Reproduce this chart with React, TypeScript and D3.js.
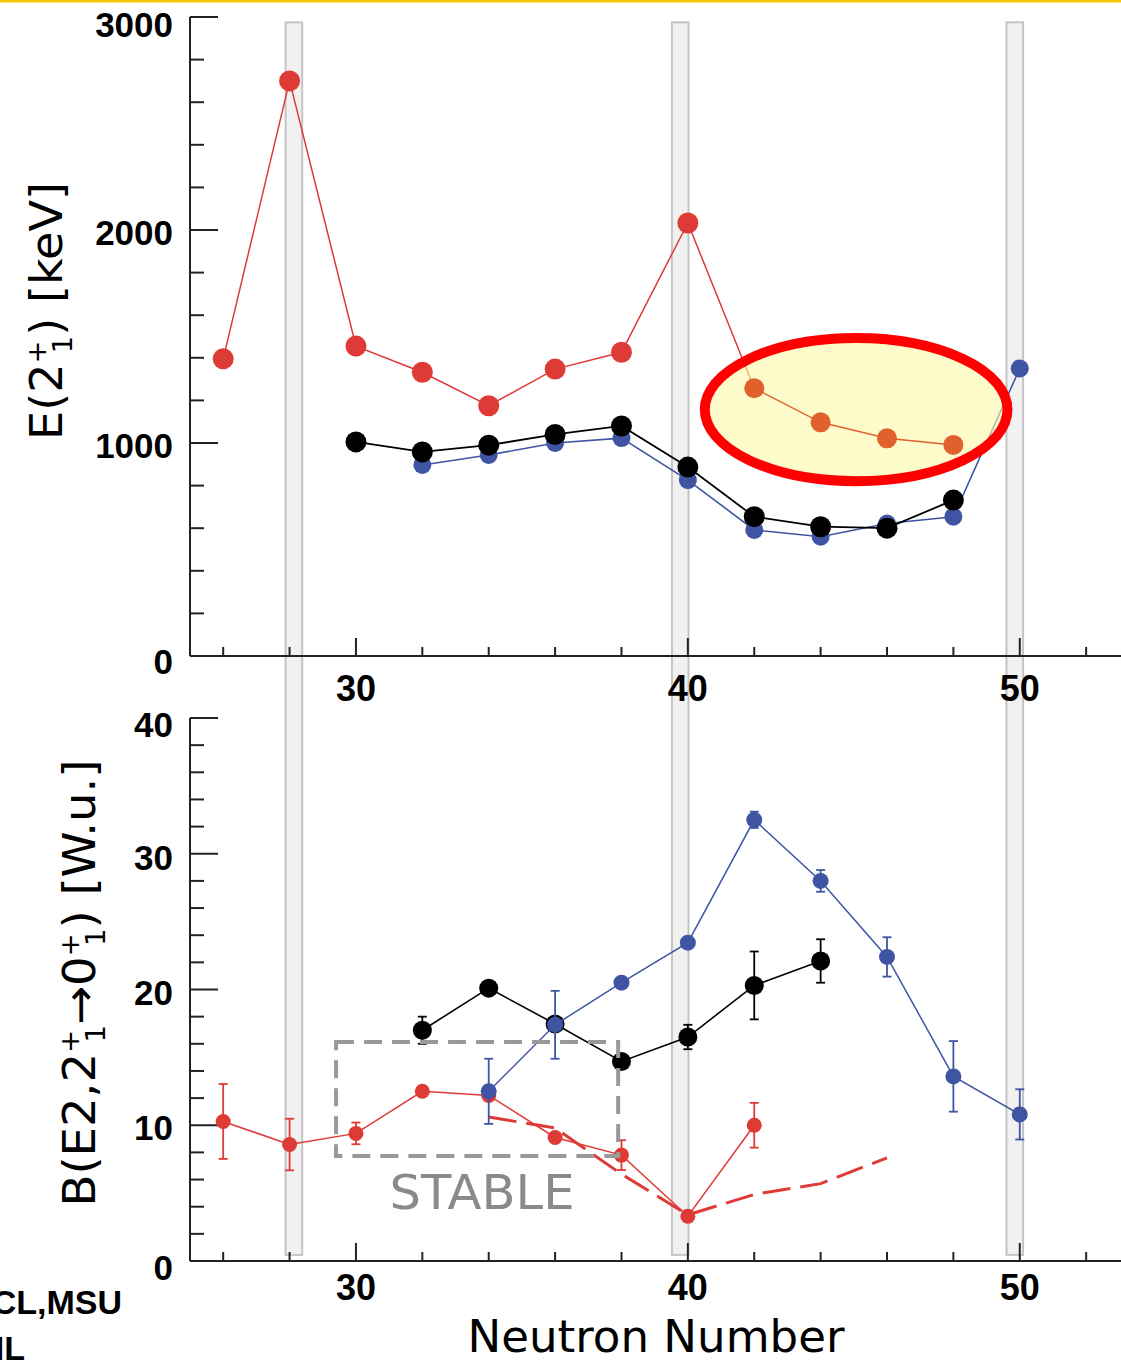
import React from 'react';
import * as d3 from 'd3';

// ---------- data ----------
const xMajorTicks = [30, 40, 50];
const xTickLabels = ['30', '40', '50'];
const xMinorTicks = [26, 28, 32, 34, 36, 38, 42, 44, 46, 48, 52];

const topYMajorTicks = [0, 1000, 2000, 3000];
const topYTickLabels = ['0', '1000', '2000', '3000'];
const botYMajorTicks = [0, 10, 20, 30, 40];
const botYTickLabels = ['0', '10', '20', '30', '40'];

// shell closure bands (N = 28, 40, 50)
const bandCenters = [28.13, 39.77, 49.85];

// Top panel: E(2+1) [keV]
const topRedN = [26, 28, 30, 32, 34, 36, 38, 40];
const topRedE = [1395, 2700, 1455, 1332, 1175, 1347, 1426, 2033];
const topOrangeN = [42, 44, 46, 48];
const topOrangeE = [1257, 1097, 1022, 991];
const topBlackN = [30, 32, 34, 36, 38, 40, 42, 44, 46, 48];
const topBlackE = [1005, 958, 990, 1040, 1080, 887, 654, 607, 600, 732];
const topBlueN = [32, 34, 36, 38, 40, 42, 44, 46, 48, 50];
const topBlueE = [897, 944, 1000, 1023, 826, 592, 560, 622, 654, 1350];

// highlight ellipse (data units)
const ellipseCenter = [45.07, 1157];
const ellipseRadii = [4.56, 336];

// Bottom panel: B(E2) [W.u.]
const botRedN = [26, 28, 30, 32, 34, 36, 38, 40, 42];
const botRedB = [10.28, 8.58, 9.4, 12.5, 12.2, 9.1, 7.8, 3.3, 10.0];
const botRedErr = [2.76, 1.9, 0.8, 0, 0, 0, 1.1, 0.4, 1.65];
const botBlueN = [34, 36, 38, 40, 42, 44, 46, 48, 50];
const botBlueB = [12.5, 17.4, 20.5, 23.45, 32.5, 28.0, 22.4, 13.6, 10.8];
const botBlueErr = [2.4, 2.5, 0, 0, 0.6, 0.8, 1.45, 2.6, 1.85];
const botBlackN = [32, 34, 36, 38, 40, 42, 44];
const botBlackB = [17.0, 20.1, 17.46, 14.7, 16.5, 20.3, 22.1];
const botBlackErr = [1.0, 0, 0, 0, 0.9, 2.5, 1.6];
const botDashN = [34, 36, 38, 40, 42, 44, 46];
const botDashB = [10.6, 9.8, 6.4, 3.4, 4.9, 5.7, 7.6];

// "STABLE" box (data units)
const stableBoxN = [29.4, 37.9];
const stableBoxB = [7.73, 16.13];

// ---------- styles ----------
const RED = '#de3a36';
const ORANGE = '#e0612c';
const BLUE = '#3f55a3';
const BLACK = '#000000';
const AXIS = '#222';
const TICKFONT = '"Liberation Sans", Arial, sans-serif';
const HANDFONT = '"Comic Sans MS", "DejaVu Sans", sans-serif';

const W = 1121;
const H = 1362;

const x = d3.scaleLinear().domain([25, 53.05]).range([190, 1121]);
const yT = d3.scaleLinear().domain([0, 3000]).range([656, 17]);
const yB = d3.scaleLinear().domain([0, 40]).range([1261, 718]);

type Scale = d3.ScaleLinear<number, number>;

function zip(a: number[], b: number[]): [number, number][] {
  return a.map((v, i) => [v, b[i]]);
}

function Axes({ y, majors, labels, minors, labelY, labelNudge }: {
  y: Scale; majors: number[]; labels: string[]; minors: number[]; labelY: number; labelNudge: number[];
}) {
  const [y0, y1] = y.range();
  const xl = x.range()[0];
  return (
    <g>
      <line x1={xl} x2={W} y1={y0} y2={y0} stroke={AXIS} strokeWidth={2} />
      <line x1={xl} x2={xl} y1={y0} y2={y1} stroke={AXIS} strokeWidth={2} />
      {majors.map((v) => (
        <line key={'ym' + v} x1={xl} x2={xl + 28} y1={y(v)} y2={y(v)} stroke={AXIS} strokeWidth={2} />
      ))}
      {minors.map((v) => (
        <line key={'yn' + v} x1={xl} x2={xl + 14} y1={y(v)} y2={y(v)} stroke={AXIS} strokeWidth={2} />
      ))}
      {majors.map((v, i) => (
        <text key={'yl' + v} x={173} y={y(v) + labelNudge[i]} textAnchor="end" dominantBaseline="central"
          fontFamily={TICKFONT} fontWeight="bold" fontSize={35}>{labels[i]}</text>
      ))}
      {xMajorTicks.map((v) => (
        <line key={'xm' + v} x1={x(v)} x2={x(v)} y1={y0} y2={y0 - 18} stroke={AXIS} strokeWidth={2} />
      ))}
      {xMinorTicks.map((v) => (
        <line key={'xn' + v} x1={x(v)} x2={x(v)} y1={y0} y2={y0 - 9} stroke={AXIS} strokeWidth={2} />
      ))}
      {xMajorTicks.map((v, i) => (
        <text key={'xl' + v} x={x(v)} y={labelY} textAnchor="middle" dominantBaseline="central"
          fontFamily={TICKFONT} fontWeight="bold" fontSize={36}>{xTickLabels[i]}</text>
      ))}
    </g>
  );
}

function Series({ pts, y, color, r, width, errs, cap }: {
  pts: [number, number][]; y: Scale; color: string; r: number; width: number; errs?: number[]; cap?: number;
}) {
  const line = d3.line<[number, number]>().x((d) => x(d[0])).y((d) => y(d[1]));
  return (
    <g>
      <path d={line(pts) || ''} fill="none" stroke={color} strokeWidth={width} />
      {errs && pts.map((p, i) => errs[i] > 0 ? (
        <g key={'e' + i} stroke={color} strokeWidth={1.8}>
          <line x1={x(p[0])} x2={x(p[0])} y1={y(p[1] - errs[i])} y2={y(p[1] + errs[i])} />
          <line x1={x(p[0]) - (cap || 4)} x2={x(p[0]) + (cap || 4)} y1={y(p[1] - errs[i])} y2={y(p[1] - errs[i])} />
          <line x1={x(p[0]) - (cap || 4)} x2={x(p[0]) + (cap || 4)} y1={y(p[1] + errs[i])} y2={y(p[1] + errs[i])} />
        </g>
      ) : null)}
      {pts.map((p, i) => (
        <circle key={'c' + i} cx={x(p[0])} cy={y(p[1])} r={r} fill={color} />
      ))}
    </g>
  );
}

export default function App() {
  const bandW = x(0.5) - x(0);
  const bandTop = yT(2975);
  const bandBottom = yB(0.45);
  const dashLine = d3.line<[number, number]>().x((d) => x(d[0])).y((d) => yB(d[1]));
  const redToOrange = d3.line<[number, number]>().x((d) => x(d[0])).y((d) => yT(d[1]));

  const ex = x(ellipseCenter[0]);
  const ey = yT(ellipseCenter[1]);
  const erx = x(ellipseCenter[0] + ellipseRadii[0]) - ex;
  const ery = ey - yT(ellipseCenter[1] + ellipseRadii[1]);

  const bx0 = x(stableBoxN[0]);
  const bx1 = x(stableBoxN[1]);
  const by0 = yB(stableBoxB[1]);
  const by1 = yB(stableBoxB[0]);

  return (
    <svg width={W} height={H} style={{ position: 'absolute', left: 0, top: 0, background: '#fff' }}>
      <rect x={0} y={0} width={W} height={H} fill="#fff" />
      <rect x={0} y={0} width={W} height={2.5} fill="#f7c600" />

      {/* shell closure bands */}
      {bandCenters.map((c) => (
        <rect key={c} x={x(c) - bandW / 2} y={bandTop} width={bandW} height={bandBottom - bandTop}
          fill="#f1f1f1" stroke="#c4c4c4" strokeWidth={2} />
      ))}

      {/* ---------- top panel ---------- */}
      <Axes y={yT} majors={topYMajorTicks} labels={topYTickLabels}
        minors={d3.range(200, 3000, 200).filter((v) => v % 1000 !== 0)} labelY={688} labelNudge={[5, 2, 2, 7]} />

      <Series pts={zip(topBlueN, topBlueE)} y={yT} color={BLUE} r={9} width={1.6} />
      <Series pts={zip(topBlackN, topBlackE)} y={yT} color={BLACK} r={10.5} width={1.8} />
      <path d={redToOrange([[topRedN[topRedN.length - 1], topRedE[topRedE.length - 1]], [topOrangeN[0], topOrangeE[0]]]) || ''}
        fill="none" stroke={RED} strokeWidth={1.5} />
      <Series pts={zip(topRedN, topRedE)} y={yT} color={RED} r={10.5} width={1.5} />

      <ellipse cx={ex} cy={ey} rx={erx} ry={ery} fill="#fdf9a8" fillOpacity={0.6} stroke="#ff0000" strokeWidth={10} />
      <Series pts={zip(topOrangeN, topOrangeE)} y={yT} color={ORANGE} r={10} width={1.5} />

      <text transform={`translate(62, 311) rotate(-90)`} textAnchor="middle" fontFamily={HANDFONT} fontSize={44}
        textLength={258} lengthAdjust="spacingAndGlyphs">
        E(2<tspan fontSize={26} dy={-16}>+</tspan><tspan fontSize={26} dx={-12} dy={26}>1</tspan><tspan dy={-10}>) [keV]</tspan>
      </text>

      {/* ---------- bottom panel ---------- */}
      <Axes y={yB} majors={botYMajorTicks} labels={botYTickLabels}
        minors={d3.range(2, 40, 2).filter((v) => v % 10 !== 0)} labelY={1287} labelNudge={[6, 2, 3, 4, 6]} />

      <path d={dashLine(zip(botDashN, botDashB)) || ''} fill="none" stroke={RED} strokeWidth={3}
        strokeDasharray="28 10" />
      <Series pts={zip(botRedN, botRedB)} y={yB} color={RED} r={7.5} width={1.5} errs={botRedErr} cap={4.5} />
      <Series pts={zip(botBlackN, botBlackB)} y={yB} color={BLACK} r={9.5} width={1.6} errs={botBlackErr} cap={4.5} />
      <Series pts={zip(botBlueN, botBlueB)} y={yB} color={BLUE} r={8} width={1.5} errs={botBlueErr} cap={4.5} />

      <rect x={bx0} y={by0} width={bx1 - bx0} height={by1 - by0} fill="none" stroke="#999" strokeWidth={4}
        strokeDasharray="18 10" />
      <text x={482} y={1209} textAnchor="middle" fontFamily={HANDFONT} fontSize={48} fill="#8a8a8a"
        textLength={185} lengthAdjust="spacingAndGlyphs">STABLE</text>

      <text transform={`translate(95, 983) rotate(-90)`} textAnchor="middle" fontFamily={HANDFONT} fontSize={44}
        textLength={447} lengthAdjust="spacingAndGlyphs">
        B(E2,2<tspan fontSize={26} dy={-16}>+</tspan><tspan fontSize={26} dx={-12} dy={26}>1</tspan><tspan dy={-10}>→0</tspan><tspan fontSize={26} dy={-16}>+</tspan><tspan fontSize={26} dx={-12} dy={26}>1</tspan><tspan dy={-10}>) [W.u.]</tspan>
      </text>

      <text x={656} y={1352} textAnchor="middle" fontFamily={HANDFONT} fontSize={45}
        textLength={377} lengthAdjust="spacingAndGlyphs">Neutron Number</text>

      <text x={122} y={1314} textAnchor="end" fontFamily={TICKFONT} fontWeight="bold" fontSize={34}>NSCL,MSU</text>
      <text x={25} y={1360} textAnchor="end" fontFamily={TICKFONT} fontWeight="bold" fontSize={34}>ORNL</text>
    </svg>
  );
}
